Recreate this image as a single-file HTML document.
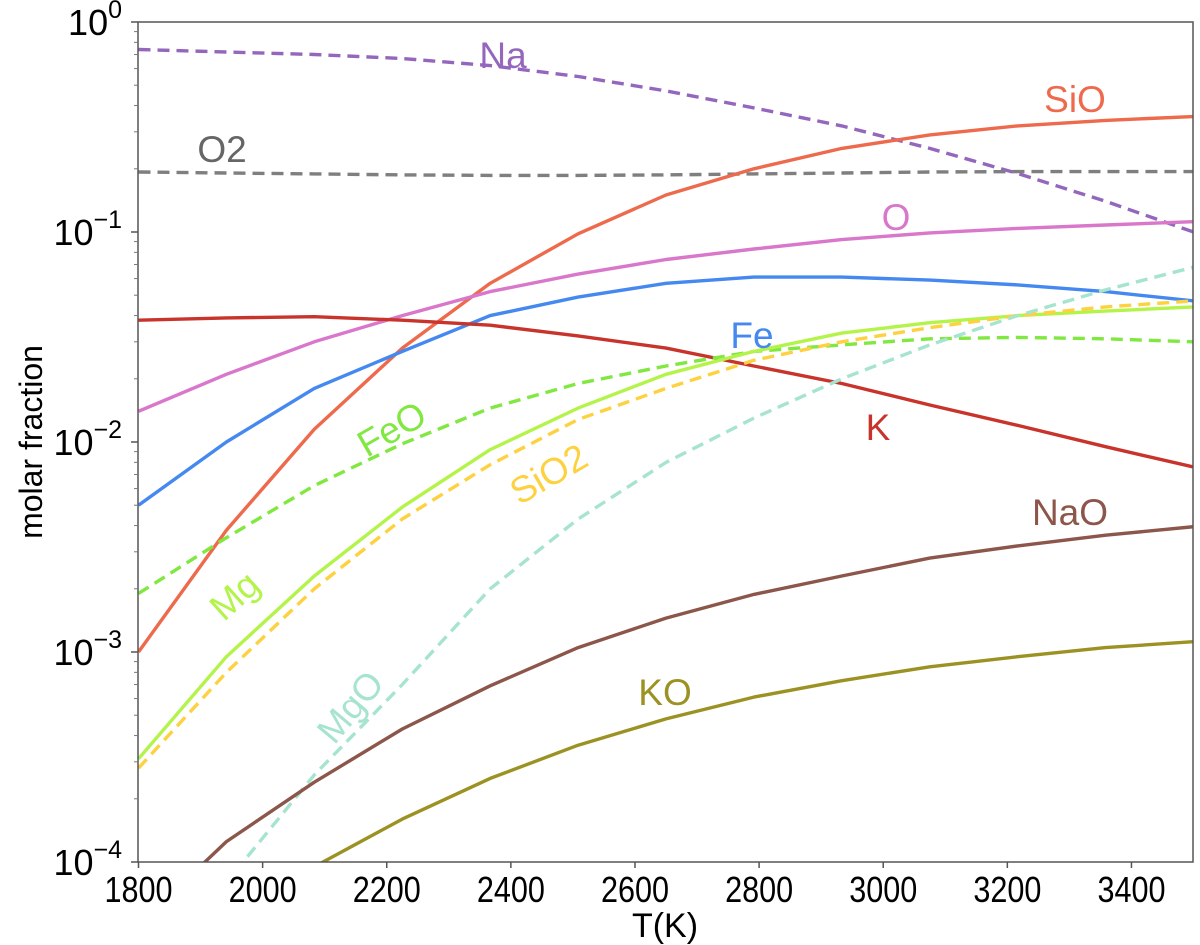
<!DOCTYPE html>
<html><head><meta charset="utf-8">
<style>
html,body{margin:0;padding:0;background:#fff;}
svg{display:block;font-family:"Liberation Sans",sans-serif;}
</style></head>
<body>
<svg id="chart" width="1200" height="945" viewBox="0 0 1200 945" xmlns="http://www.w3.org/2000/svg">
<defs><clipPath id="plotclip"><rect x="138" y="22" width="1055" height="840"/></clipPath></defs>
<g id="series" clip-path="url(#plotclip)"></g>
<g id="axes"></g>
<g id="labels"></g>
</svg>
<script>
const temps = [1800,1941.7,2083.3,2225,2366.7,2508.3,2650,2791.7,2933.3,3075,3216.7,3358.3,3500];
const xTicks = [1800,2000,2200,2400,2600,2800,3000,3200,3400];
const yTickExp = [0,-1,-2,-3,-4];
const Na   = [0.74,0.72,0.70,0.67,0.62,0.55,0.47,0.39,0.32,0.25,0.19,0.14,0.10];
const O2   = [0.193,0.191,0.189,0.187,0.186,0.186,0.187,0.189,0.191,0.193,0.194,0.194,0.194];
const SiO  = [0.001,0.0038,0.0115,0.028,0.057,0.098,0.15,0.20,0.25,0.29,0.32,0.34,0.355];
const O    = [0.014,0.021,0.030,0.040,0.052,0.063,0.074,0.083,0.092,0.099,0.104,0.108,0.112];
const Fe   = [0.005,0.010,0.018,0.027,0.040,0.049,0.057,0.061,0.061,0.059,0.056,0.052,0.047];
const K    = [0.038,0.039,0.0395,0.038,0.036,0.032,0.028,0.023,0.019,0.015,0.012,0.0095,0.0076];
const FeO  = [0.0019,0.0035,0.0062,0.0098,0.0145,0.019,0.023,0.027,0.029,0.031,0.0315,0.031,0.030];
const Mg   = [0.00031,0.00095,0.0023,0.0049,0.0092,0.0145,0.021,0.027,0.033,0.037,0.040,0.042,0.044];
const SiO2 = [0.00028,0.0008,0.002,0.0043,0.0078,0.0128,0.018,0.0245,0.030,0.035,0.040,0.044,0.047];
const MgO  = [0.000025,0.00008,0.00026,0.0007,0.002,0.0043,0.008,0.013,0.020,0.029,0.040,0.053,0.068];
const NaO  = [0.00005,0.000125,0.00024,0.00043,0.00069,0.00105,0.00145,0.00188,0.0023,0.0028,0.0032,0.0036,0.00395];
const KO   = [0.000025,0.00005,0.000095,0.00016,0.00025,0.00036,0.00048,0.00061,0.00073,0.00085,0.00095,0.00105,0.00112];

const NS="http://www.w3.org/2000/svg";
const X0=138.5, XPK=0.6206, Y0=22, DEC=210;
function xs(t){return X0+(t-1800)*XPK;}
function ys(v){return Y0-Math.log10(v)*DEC;}
function mk(tag,attrs,parent){const e=document.createElementNS(NS,tag);for(const k in attrs)e.setAttribute(k,attrs[k]);parent.appendChild(e);return e;}
const gS=document.getElementById('series'),gA=document.getElementById('axes'),gL=document.getElementById('labels');

const seriesList=[
 ['na',Na,'#9467bd',true],['o2',O2,'#7f7f7f',true],['sio',SiO,'#ee6a4c',false],['o',O,'#d977cb',false],
 ['fe',Fe,'#4589f0',false],['k',K,'#c8342c',false],['feo',FeO,'#80e840',true],['mg',Mg,'#b4f44a',false],
 ['sio2',SiO2,'#fdd13f',true],['mgo',MgO,'#a7e4cf',true],['nao',NaO,'#8c564b',false],['ko',KO,'#9c9224',false]];
for(const [n,vals,c,dash] of seriesList){
  const d=vals.map((v,i)=>(i?'L':'M')+xs(temps[i]).toFixed(1)+' '+ys(v).toFixed(1)).join(' ');
  const p=mk('path',{d:d,fill:'none',stroke:c,'stroke-width':3.4,'stroke-linejoin':'round'},gS);
  if(dash)p.setAttribute('stroke-dasharray','12 7');
  
  
}

const fr=mk('rect',{x:138,y:22,width:1055,height:840,fill:'none',stroke:'#555','stroke-width':1.5},gA);


for(const t of xTicks){
  const x=xs(t);
  mk('line',{x1:x,y1:862,x2:x,y2:868,stroke:'#555','stroke-width':1.5},gA);
  const tx=mk('text',{x:x,y:902,'font-size':36,'text-anchor':'middle',fill:'#000',transform:'translate('+x+' 0) scale(0.85 1) translate('+(-x)+' 0)'},gA);
  tx.textContent=t;
  
  
}
for(const e of yTickExp){
  const y=ys(Math.pow(10,e));
  mk('line',{x1:131,y1:y,x2:138,y2:y,stroke:'#555','stroke-width':1.5},gA);
  for(let m=2;m<=9&&e>-4;m++){const ym=ys(m*Math.pow(10,e-1));mk('line',{x1:134,y1:ym,x2:138,y2:ym,stroke:'#777','stroke-width':1},gA);}
  const tx=mk('text',{x:122,y:y+13,'font-size':36,'text-anchor':'end',fill:'#000'},gA);
  tx.textContent='10';
  const sp=mk('tspan',{dy:-17,'font-size':25},tx);
  sp.textContent=e===0?'0':'\u2212'+(-e);
  
  
}
const xt=mk('text',{x:665,y:937,'font-size':34,'text-anchor':'middle'},gA);xt.textContent='T(K)';


const yt=mk('text',{x:0,y:0,'font-size':32,'text-anchor':'middle',transform:'translate(42,442) rotate(-90)'},gA);yt.textContent='molar fraction';



const labs=[['Na',503,68,'#9467bd',0],['O2',222,162,'#666',0],['SiO',1075,112,'#ee6a4c',0],['O',896,230,'#d977cb',0],
 ['Fe',752,348,'#4589f0',0],['K',878,440,'#c8342c',0],['FeO',398,440,'#80e840',-30],['SiO2',555,485,'#fdd13f',-30],
 ['Mg',243,605,'#b4f44a',-42],['MgO',360,715,'#a7e4cf',-50],['NaO',1070,525,'#8c564b',0],['KO',665,705,'#9c9224',0]];
for(const [t,x,y,c,r] of labs){
  const tx=mk('text',{x:x,y:y,'font-size':37,'text-anchor':'middle',fill:c,transform:'rotate('+r+' '+x+' '+y+')'},gL);
  tx.textContent=t;
  
  
}
</script>
</body></html>
